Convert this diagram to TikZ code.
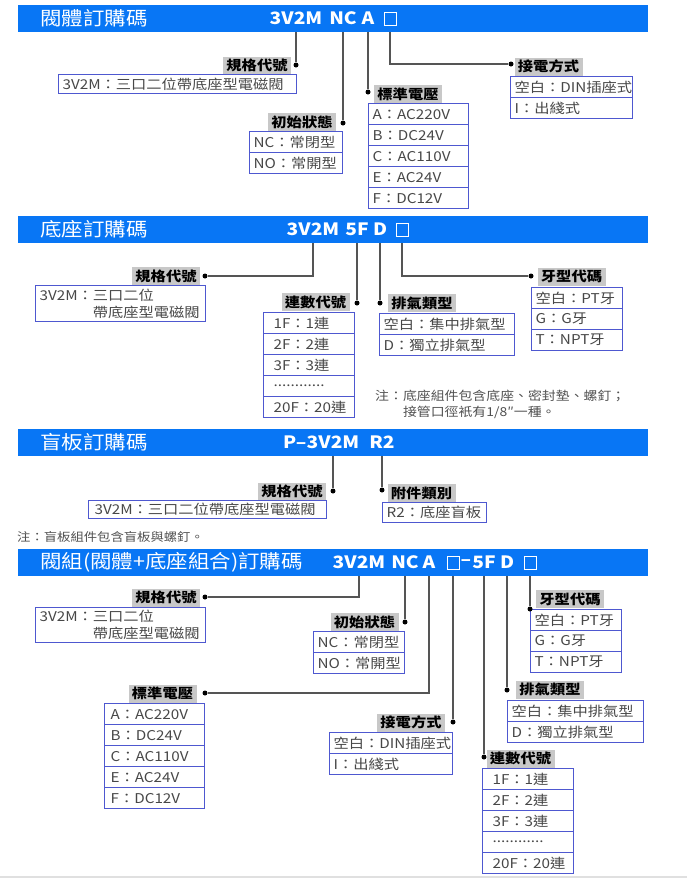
\documentclass[tikz,border=0pt]{standalone}
\usepackage{fontspec}
\setmainfont{Noto Sans CJK TC}[FakeStretch=1.13]
\usetikzlibrary{positioning}
\definecolor{bannerblue}{RGB}{8,118,245}
\definecolor{taggray}{RGB}{200,200,200}
\definecolor{boxblue}{RGB}{78,88,208}
\definecolor{wiregray}{RGB}{85,85,85}
\definecolor{notegray}{RGB}{80,80,80}
\newcommand\rowdots{............}
\tikzset{
  bannerbar/.style={fill=bannerblue,anchor=north west,inner sep=0pt,minimum width=630,minimum height=27},
  bartitle/.style={text=white,anchor=west,inner sep=0pt,font=\fontsize{19}{19}\selectfont},
  barcode/.style={text=white,inner sep=0pt,font=\bfseries\fontsize{17}{17}\selectfont},
  barslot/.style={draw=white,line width=0.9,inner sep=0pt,minimum width=12,minimum height=13},
  taglabel/.style={fill=taggray,inner sep=0pt,minimum width=68,minimum height=18,font=\bfseries\fontsize{13.5}{14}\selectfont},
  optrow/.style={draw=boxblue,line width=1.2,anchor=north west,inner ysep=0pt,inner xsep=4pt,align=left,minimum height=21,text=black!72,font=\fontsize{13.5}{17}\selectfont},
  wireline/.style={draw=wiregray,line width=1.1},
  bullet/.style={circle,fill=black,inner sep=0pt,minimum size=5},
  notetext/.style={anchor=west,inner sep=0pt,align=left,text=notegray,font=\fontsize{12.3}{16}\selectfont}
}
\begin{document}
\begin{tikzpicture}[x=1pt,y=-1pt]
\useasboundingbox (0,0) rectangle (687,879);
% 閥體訂購碼
\node[bannerbar] (b1) at (18,5) {};
\node[bartitle] (b1-title) at (40,18.5) {閥體訂購碼};
\node[barcode] (b1-3v2m) at (296,18.5) {3V2M};
\node[barcode] (b1-nc) at (343,18.5) {NC};
\node[barcode] (b1-a) at (368,18.5) {A};
\node[barslot] (b1-x) at (390,18.5) {};
\node[taglabel] (s1a) at (257,65.5) {規格代號};
\node[optrow,text width=230,minimum height=19] (s1a-1) at (58,74) {3V2M：三口二位帶底座型電磁閥};
\node[taglabel] (s1b) at (302,122) {初始狀態};
\foreach \t [count=\i] in {NC：常閉型,NO：常開型}
  \node[optrow,text width=85] (s1b-\i) at (249,{131+21*(\i-1)}) {\t};
\node[taglabel] (s1c) at (408,94) {標準電壓};
\foreach \t [count=\i] in {A：AC220V,B：DC24V,C：AC110V,E：AC24V,F：DC12V}
  \node[optrow,text width=92] (s1c-\i) at (368,{103+21*(\i-1)}) {\t};
\node[taglabel] (s1d) at (548.5,66.5) {接電方式};
\foreach \t [count=\i] in {空白：DIN插座式,I：出綫式}
  \node[optrow,text width=114] (s1d-\i) at (510,{76+21*(\i-1)}) {\t};
\node[bullet] (s1a-dot) at (296,65) {};
\node[bullet] (s1b-dot) at (343,123) {};
\node[bullet] (s1c-dot) at (368,92) {};
\node[bullet] (s1d-dot) at (511,64) {};
\draw[wireline] (b1-3v2m |- b1.south) -- (s1a-dot);
\draw[wireline] (b1-nc |- b1.south) -- (s1b-dot);
\draw[wireline] (b1-a |- b1.south) -- (s1c-dot);
\draw[wireline] (b1-x |- b1.south) |- (s1d-dot);
% 底座訂購碼
\node[bannerbar] (b2) at (18,216) {};
\node[bartitle] (b2-title) at (40,229.5) {底座訂購碼};
\node[barcode] (b2-3v2m) at (313,229.5) {3V2M};
\node[barcode] (b2-5f) at (357,229.5) {5F};
\node[barcode] (b2-d) at (380,229.5) {D};
\node[barslot] (b2-x) at (402,229.5) {};
\node[taglabel] (s2a) at (166,276) {規格代號};
\node[optrow,text width=162,minimum height=36] (s2a-1) at (35,285) {3V2M：三口二位\\\hphantom{3V2M：}帶底座型電磁閥};
\node[taglabel] (s2b) at (315.5,302) {連數代號};
\foreach \t [count=\i] in {1F：1連,2F：2連,3F：3連,\rowdots,20F：20連}
  \node[optrow,inner xsep=10pt,text width=71] (s2b-\i) at (263,{312+21*(\i-1)}) {\t};
\node[taglabel] (s2c) at (422,303) {排氣類型};
\foreach \t [count=\i] in {空白：集中排氣型,D：獨立排氣型}
  \node[optrow,text width=127] (s2c-\i) at (379,{313+21*(\i-1)}) {\t};
\node[taglabel] (s2d) at (571.5,276.5) {牙型代碼};
\foreach \t [count=\i] in {空白：PT牙,G：G牙,T：NPT牙}
  \node[optrow,text width=83] (s2d-\i) at (531,{287+21*(\i-1)}) {\t};
\node[bullet] (s2a-dot) at (205,276) {};
\node[bullet] (s2b-dot) at (357,303) {};
\node[bullet] (s2c-dot) at (380,303) {};
\node[bullet] (s2d-dot) at (531,276) {};
\draw[wireline] (b2-3v2m |- b2.south) |- (s2a-dot);
\draw[wireline] (b2-5f |- b2.south) -- (s2b-dot);
\draw[wireline] (b2-d |- b2.south) -- (s2c-dot);
\draw[wireline] (b2-x |- b2.south) |- (s2d-dot);
\node[notetext] (n2) at (375,404) {注：底座組件包含底座、密封墊、螺釘；\\\hphantom{注：}接管口徑衹有1/8″一種。};
% 盲板訂購碼
\node[bannerbar] (b3) at (18,429) {};
\node[bartitle] (b3-title) at (40,442.5) {盲板訂購碼};
\node[barcode] (b3-3v2m) at (333,442.5) {3V2M};
\node[barcode,left=0pt of b3-3v2m] (b3-p) {P–};
\node[barcode] (b3-r2) at (382,442.5) {R2};
\node[taglabel] (s3a) at (292,491.5) {規格代號};
\node[optrow,inner xsep=6pt,text width=226,minimum height=18] (s3a-1) at (88,500) {3V2M：三口二位帶底座型電磁閥};
\node[taglabel] (s3b) at (421.5,493) {附件類別};
\node[optrow,text width=96,minimum height=20] (s3b-1) at (382,502) {R2：底座盲板};
\node[bullet] (s3a-dot) at (333,491) {};
\node[bullet] (s3b-dot) at (382,490) {};
\draw[wireline] (b3-3v2m |- b3.south) -- (s3a-dot);
\draw[wireline] (b3-r2 |- b3.south) -- (s3b-dot);
\node[notetext,font=\fontsize{11.8}{14}\selectfont] (n3) at (17,537) {注：盲板組件包含盲板與螺釘。};
% 閥組訂購碼
\node[bannerbar] (b4) at (18,549) {};
\node[bartitle] (b4-title) at (40,562.5) {閥組(閥體+底座組合)訂購碼};
\node[barcode] (b4-3v2m) at (359,562.5) {3V2M};
\node[barcode] (b4-nc) at (405,562.5) {NC};
\node[barcode] (b4-a) at (429,562.5) {A};
\node[barslot] (b4-x1) at (453,562.5) {};
\node[barcode,right=1pt of b4-x1] (b4-dash) {–};
\node[barcode] (b4-5f) at (484,562.5) {5F};
\node[barcode] (b4-d) at (507,562.5) {D};
\node[barslot] (b4-x2) at (530,562.5) {};
\node[taglabel] (s4a) at (166,597.5) {規格代號};
\node[optrow,text width=162,minimum height=35] (s4a-1) at (35,607) {3V2M：三口二位\\\hphantom{3V2M：}帶底座型電磁閥};
\node[taglabel] (s4b) at (364.5,622) {初始狀態};
\foreach \t [count=\i] in {NC：常閉型,NO：常開型}
  \node[optrow,text width=83] (s4b-\i) at (313,{631+21*(\i-1)}) {\t};
\node[taglabel] (s4c) at (162.5,693.5) {標準電壓};
\foreach \t [count=\i] in {A：AC220V,B：DC24V,C：AC110V,E：AC24V,F：DC12V}
  \node[optrow,inner xsep=6pt,text width=88] (s4c-\i) at (104,{703+21*(\i-1)}) {\t};
\node[taglabel] (s4d) at (411,722.5) {接電方式};
\foreach \t [count=\i] in {空白：DIN插座式,I：出綫式}
  \node[optrow,text width=115] (s4d-\i) at (329,{732+21*(\i-1)}) {\t};
\node[taglabel] (s4e) at (520.5,758.5) {連數代號};
\foreach \t [count=\i] in {1F：1連,2F：2連,3F：3連,\rowdots,20F：20連}
  \node[optrow,inner xsep=10pt,text width=71] (s4e-\i) at (482,{768+21*(\i-1)}) {\t};
\node[taglabel] (s4f) at (550,689.5) {排氣類型};
\foreach \t [count=\i] in {空白：集中排氣型,D：獨立排氣型}
  \node[optrow,text width=128] (s4f-\i) at (507,{700+21*(\i-1)}) {\t};
\node[taglabel] (s4g) at (570,599) {牙型代碼};
\foreach \t [count=\i] in {空白：PT牙,G：G牙,T：NPT牙}
  \node[optrow,text width=83] (s4g-\i) at (530,{609+21*(\i-1)}) {\t};
\node[bullet] (s4a-dot) at (205,597) {};
\node[bullet] (s4b-dot) at (405,622) {};
\node[bullet] (s4c-dot) at (205,693) {};
\node[bullet] (s4d-dot) at (453,722) {};
\node[bullet] (s4e-dot) at (484,757) {};
\node[bullet] (s4f-dot) at (507,690) {};
\node[bullet] (s4g-dot) at (530,609) {};
\draw[wireline] (b4-3v2m |- b4.south) |- (s4a-dot);
\draw[wireline] (b4-nc |- b4.south) -- (s4b-dot);
\draw[wireline] (b4-a |- b4.south) |- (s4c-dot);
\draw[wireline] (b4-x1 |- b4.south) -- (s4d-dot);
\draw[wireline] (b4-5f |- b4.south) -- (s4e-dot);
\draw[wireline] (b4-d |- b4.south) -- (s4f-dot);
\draw[wireline] (b4-x2 |- b4.south) -- (s4g-dot);
\draw[line width=2,draw=black!12] (0,877) -- (687,877);
\end{tikzpicture}
\end{document}
